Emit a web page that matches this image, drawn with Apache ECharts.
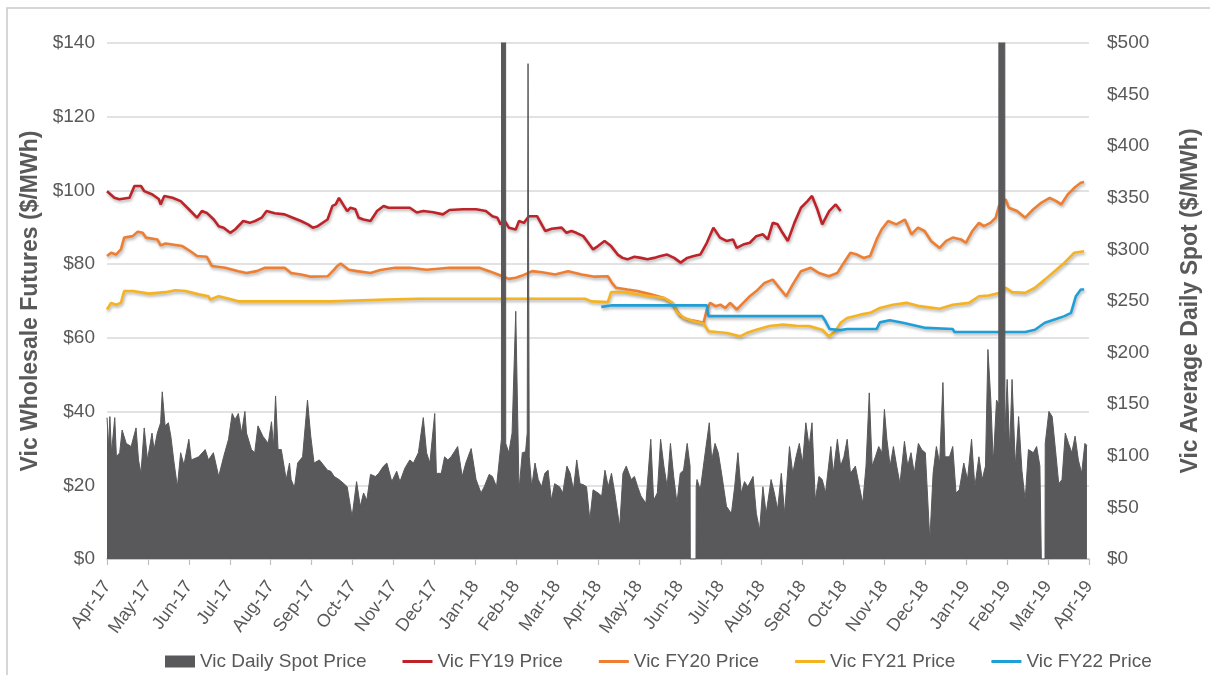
<!DOCTYPE html>
<html>
<head>
<meta charset="utf-8">
<script src="https://cdn.jsdelivr.net/npm/echarts@6/dist/echarts.min.js"></script>
<style>
html,body{margin:0;padding:0;background:#fff;}
#chart{width:1210px;height:675px;}
</style>
</head>
<body>
<div id="chart"></div>
<script>
// Month tick labels (x = months since Apr-17)
const tickLabels = ['Apr-17','May-17','Jun-17','Jul-17','Aug-17','Sep-17','Oct-17','Nov-17','Dec-17','Jan-18','Feb-18','Mar-18','Apr-18','May-18','Jun-18','Jul-18','Aug-18','Sep-18','Oct-18','Nov-18','Dec-18','Jan-19','Feb-19','Mar-19','Apr-19'];

// Vic Daily Spot Price ($/MWh, right axis) as [month offset, value]
const spotPrice = [
[0,137],[0.04,109],[0.07,138],[0.11,103],[0.19,137],[0.23,99],[0.31,103],[0.37,125],[0.47,112],[0.59,109],
[0.71,127],[0.77,96],[0.83,83],[0.91,127],[0.99,96],[1.10,122],[1.15,106],[1.23,122],[1.31,132],[1.35,162],
[1.42,129],[1.50,132],[1.56,119],[1.64,93],[1.72,70],[1.80,103],[1.88,91],[2.00,116],[2.06,96],[2.24,99],
[2.40,106],[2.48,96],[2.60,103],[2.73,80],[2.85,99],[2.97,116],[3.06,141],[3.13,135],[3.21,141],[3.29,122],
[3.37,143],[3.41,122],[3.53,106],[3.61,103],[3.69,129],[3.81,119],[3.94,112],[4.02,133],[4.07,109],[4.12,158],
[4.18,106],[4.26,106],[4.38,77],[4.46,93],[4.50,77],[4.58,69],[4.66,93],[4.78,99],[4.90,154],[4.98,119],
[5.06,93],[5.19,96],[5.31,90],[5.39,86],[5.47,85],[5.55,80],[5.67,77],[5.79,73],[5.87,70],[5.99,41],
[6.10,75],[6.19,51],[6.27,64],[6.35,57],[6.44,82],[6.56,80],[6.64,83],[6.76,90],[6.84,93],[6.96,75],
[7.08,85],[7.16,75],[7.28,88],[7.40,96],[7.49,93],[7.61,103],[7.73,137],[7.81,103],[7.89,93],[8.01,141],
[8.05,83],[8.17,83],[8.25,99],[8.33,96],[8.41,99],[8.49,104],[8.57,109],[8.68,80],[8.77,93],[8.90,107],
[9.02,77],[9.14,64],[9.22,70],[9.34,82],[9.42,80],[9.52,70],[9.58,93],[9.64,116],[9.645,900],[9.74,900],
[9.745,112],[9.82,103],[9.90,122],[9.99,240],[10.07,67],[10.15,103],[10.23,104],[10.27,122],[10.29,480],[10.32,99],
[10.38,70],[10.46,93],[10.54,77],[10.62,70],[10.70,83],[10.78,86],[10.86,57],[10.94,73],[11.06,70],[11.14,64],
[11.24,90],[11.32,83],[11.40,67],[11.48,96],[11.56,73],[11.64,72],[11.72,70],[11.80,38],[11.88,67],[12.00,64],
[12.09,61],[12.17,86],[12.25,70],[12.33,83],[12.41,64],[12.53,31],[12.61,83],[12.69,90],[12.81,77],[12.89,80],
[12.97,70],[13.05,61],[13.17,54],[13.29,116],[13.36,57],[13.45,64],[13.53,116],[13.61,90],[13.69,70],[13.77,112],
[13.85,80],[13.93,54],[14.01,83],[14.09,86],[14.18,112],[14.25,90],[14.255,0],[14.395,0],[14.40,70],[14.42,77],
[14.50,67],[14.62,103],[14.72,132],[14.78,96],[14.86,112],[14.94,103],[15.02,83],[15.14,51],[15.26,44],[15.34,70],
[15.42,103],[15.50,64],[15.58,75],[15.66,70],[15.79,80],[15.87,44],[15.95,28],[16.03,70],[16.11,44],[16.23,77],
[16.31,64],[16.39,48],[16.48,83],[16.56,44],[16.68,109],[16.76,83],[16.84,99],[16.92,112],[17.00,93],[17.08,132],
[17.16,109],[17.23,132],[17.31,57],[17.40,80],[17.48,77],[17.56,64],[17.69,109],[17.75,83],[17.85,116],[17.93,90],
[18.01,99],[18.09,116],[18.17,83],[18.29,90],[18.39,70],[18.47,54],[18.55,90],[18.63,161],[18.70,90],[18.78,99],
[18.86,109],[18.94,103],[19.00,145],[19.06,116],[19.14,90],[19.22,109],[19.30,90],[19.38,73],[19.49,114],[19.57,90],
[19.65,103],[19.73,83],[19.83,112],[19.91,106],[20.00,103],[20.11,18],[20.19,83],[20.27,109],[20.35,93],[20.43,171],
[20.48,99],[20.59,99],[20.67,109],[20.75,64],[20.83,67],[20.94,93],[21.03,77],[21.13,116],[21.21,70],[21.31,99],
[21.39,77],[21.47,90],[21.53,203],[21.60,154],[21.66,93],[21.74,154],[21.795,150],[21.80,900],[21.94,900],[21.945,120],
[22.00,174],[22.06,106],[22.12,174],[22.20,90],[22.28,138],[22.36,86],[22.44,57],[22.52,106],[22.64,103],[22.72,109],
[22.80,90],[22.835,0],[22.925,0],[22.93,112],[23.02,143],[23.10,138],[23.18,106],[23.26,73],[23.34,77],[23.42,122],
[23.50,112],[23.58,103],[23.66,119],[23.74,96],[23.82,83],[23.90,112],[23.95,110]
];

// Vic FY19 futures price ($/MWh, left axis)
const fy19Price = [
[0,99.8],[0.18,98.0],[0.30,97.6],[0.55,98.0],[0.67,101.2],[0.83,101.2],[0.91,99.8],[1.11,98.9],[1.27,97.6],[1.31,96.2],
[1.40,98.5],[1.60,98.0],[1.80,97.1],[2.00,94.9],[2.20,92.6],[2.32,94.4],[2.44,93.9],[2.61,92.1],[2.73,90.3],[2.85,89.9],
[3.01,88.5],[3.13,89.4],[3.33,91.7],[3.49,91.2],[3.62,91.7],[3.78,92.6],[3.90,94.4],[4.10,93.8],[4.34,93.5],[4.54,92.6],
[4.74,91.7],[4.91,90.8],[5.03,89.9],[5.15,90.3],[5.39,92.1],[5.51,95.8],[5.59,96.2],[5.67,98.0],[5.79,95.8],[5.87,94.4],
[5.95,95.3],[6.07,94.9],[6.15,92.6],[6.27,92.1],[6.44,91.7],[6.60,94.4],[6.76,95.8],[6.88,95.3],[7.04,95.3],[7.40,95.3],
[7.57,94.0],[7.73,94.4],[7.97,94.1],[8.21,93.5],[8.37,94.7],[8.70,94.9],[9.02,94.9],[9.26,94.4],[9.42,93.0],[9.54,92.6],
[9.62,90.8],[9.70,92.1],[9.82,89.9],[9.99,89.4],[10.07,91.7],[10.19,91.2],[10.31,93.0],[10.51,93.0],[10.71,89.0],[10.87,89.6],
[11.11,89.9],[11.23,88.5],[11.35,89.0],[11.47,88.5],[11.64,87.6],[11.76,85.8],[11.88,84.0],[12.00,84.9],[12.16,86.3],[12.32,84.9],
[12.48,82.6],[12.60,81.7],[12.72,81.3],[12.89,82.0],[13.05,81.7],[13.21,81.3],[13.37,81.7],[13.53,82.2],[13.69,82.6],[13.86,81.7],
[14.02,80.4],[14.18,81.7],[14.34,82.2],[14.50,82.6],[14.66,85.8],[14.82,89.9],[14.98,87.2],[15.14,86.3],[15.30,86.7],[15.39,84.4],
[15.55,85.3],[15.71,85.8],[15.87,87.6],[16.03,88.1],[16.15,86.7],[16.27,91.2],[16.39,90.8],[16.51,88.5],[16.64,86.3],[16.80,91.2],
[16.96,95.3],[17.12,97.1],[17.23,98.5],[17.36,94.9],[17.48,90.8],[17.65,94.4],[17.81,96.2],[17.93,94.4]
];

// Vic FY20 futures price
const fy20Price = [
[0,82.2],[0.10,83.1],[0.22,82.6],[0.34,84.0],[0.42,87.2],[0.63,87.6],[0.75,88.8],[0.87,88.5],[0.95,87.2],[1.23,86.7],
[1.31,85.1],[1.43,85.6],[1.84,84.9],[2.04,83.5],[2.20,82.2],[2.44,82.0],[2.56,79.5],[2.89,79.0],[3.21,78.1],[3.41,77.6],
[3.66,78.1],[3.86,79.0],[4.34,79.0],[4.50,77.6],[4.74,77.2],[4.99,76.6],[5.39,76.7],[5.55,78.5],[5.63,79.5],[5.71,80.2],
[5.79,79.5],[5.91,78.5],[6.11,78.1],[6.44,77.6],[6.68,78.4],[7.04,79.0],[7.40,79.0],[7.81,78.5],[8.37,79.0],[9.10,79.0],
[9.34,78.1],[9.62,76.9],[9.82,76.0],[9.99,76.3],[10.15,76.9],[10.39,78.1],[10.63,77.8],[10.95,77.2],[11.27,78.1],[11.60,77.2],
[11.92,76.6],[12.24,76.7],[12.34,74.9],[12.44,73.6],[12.72,73.1],[12.96,72.7],[13.29,71.8],[13.61,70.8],[13.81,69.5],[13.90,67.7],
[14.02,65.9],[14.18,65.0],[14.42,64.5],[14.58,64.1],[14.66,67.7],[14.74,69.5],[14.87,68.6],[14.99,69.0],[15.11,68.1],[15.23,69.5],
[15.39,67.7],[15.55,69.5],[15.71,71.3],[15.87,72.7],[16.07,74.9],[16.27,75.8],[16.43,73.6],[16.60,71.3],[16.76,74.5],[16.96,78.1],
[17.20,79.0],[17.40,77.6],[17.64,76.7],[17.85,77.6],[18.01,80.4],[18.17,83.1],[18.33,82.6],[18.49,81.7],[18.65,82.2],[18.81,86.7],
[18.93,89.4],[19.09,91.7],[19.29,90.8],[19.50,92.1],[19.66,88.1],[19.82,89.9],[19.98,89.0],[20.14,86.3],[20.35,84.4],[20.51,86.3],
[20.67,87.2],[20.87,86.7],[20.99,85.8],[21.15,89.0],[21.31,91.2],[21.43,90.3],[21.59,91.2],[21.72,92.6],[21.80,95.8],[21.96,97.6],
[22.04,95.3],[22.24,94.4],[22.44,92.6],[22.64,94.9],[22.84,96.7],[23.04,98.0],[23.20,97.1],[23.32,96.2],[23.48,98.9],[23.64,100.7],
[23.80,102.1],[23.88,102.3]
];

// Vic FY21 futures price
const fy21Price = [
[0,67.7],[0.10,69.5],[0.22,69.0],[0.34,69.5],[0.42,72.7],[0.63,72.7],[1.03,72.0],[1.43,72.4],[1.67,72.9],[1.92,72.7],
[2.24,71.8],[2.48,71.3],[2.52,70.4],[2.73,71.3],[3.05,70.4],[3.21,69.9],[5.47,69.9],[6.84,70.4],[7.65,70.6],[11.68,70.6],
[11.84,69.9],[12.24,69.7],[12.32,72.4],[12.65,72.4],[12.97,71.8],[13.29,71.3],[13.62,70.8],[13.82,69.5],[13.94,66.8],[14.10,65.4],
[14.34,64.5],[14.58,63.9],[14.70,61.8],[14.90,61.6],[15.15,61.3],[15.47,60.4],[15.63,61.3],[15.87,62.2],[16.19,63.2],[16.52,63.6],
[16.84,63.3],[17.16,63.2],[17.48,62.2],[17.64,60.4],[17.80,61.8],[17.93,64.1],[18.09,65.4],[18.41,66.3],[18.65,66.8],[18.89,68.1],
[19.21,69.0],[19.54,69.5],[19.86,68.6],[20.35,67.9],[20.67,69.0],[21.07,69.5],[21.31,71.3],[21.55,71.5],[21.80,72.2],[21.96,73.6],
[22.12,72.4],[22.44,72.2],[22.68,73.6],[22.92,75.8],[23.16,78.1],[23.40,80.4],[23.64,83.1],[23.88,83.5]
];

// Vic FY22 futures price
const fy22Price = [
[12.08,68.4],[12.32,68.8],[14.66,68.8],[14.70,65.9],[17.48,65.9],[17.56,64.5],[17.66,62.4],[17.93,62.1],[18.09,62.4],[18.81,62.4],
[18.89,64.2],[19.13,64.8],[19.45,64.1],[20.01,62.7],[20.67,62.4],[20.71,61.6],[22.44,61.6],[22.68,62.2],[22.92,64.1],[23.16,65.0],
[23.40,65.9],[23.56,66.8],[23.68,71.3],[23.80,73.1],[23.88,73.1]
];

const seriesNames = ['Vic Daily Spot Price','Vic FY19 Price','Vic FY20 Price','Vic FY21 Price','Vic FY22 Price'];
const seriesColors = ['#59595b','#bd2328','#ee7e31','#f6b321','#1f9fd8'];

const chart = echarts.init(document.getElementById('chart'), null, {renderer:'canvas'});
const labelColor = '#595959';
const sans = '"Liberation Sans", Arial, sans-serif';
const lineIcon = 'path://M0,0H30V3H0Z';

function futuresLine(name, data, color){
  return {
    name: name, type: 'line', data: data, yAxisIndex: 0,
    showSymbol: false, symbol: 'none',
    lineStyle: {color: color, width: 2.6, shadowColor: 'rgba(0,0,0,0.3)', shadowBlur: 3, shadowOffsetX: 1, shadowOffsetY: 2},
    itemStyle: {color: color}, z: 2
  };
}

chart.setOption({
  animation: false,
  backgroundColor: '#ffffff',
  graphic: [{
    type: 'rect', shape: {x: 7, y: 8, width: 1260, height: 700},
    style: {fill: 'none', stroke: '#c9c9c9', lineWidth: 1.5}, silent: true, z: -1
  }],
  grid: {left: 107, right: 111, top: 43, bottom: 116},
  legend: {
    left: 160, top: 647,
    itemWidth: 30, itemHeight: 12, itemGap: 36,
    textStyle: {fontFamily: sans, fontSize: 19, color: labelColor},
    data: [
      {name: seriesNames[0], icon: 'rect'},
      {name: seriesNames[1], icon: lineIcon},
      {name: seriesNames[2], icon: lineIcon},
      {name: seriesNames[3], icon: lineIcon},
      {name: seriesNames[4], icon: lineIcon}
    ]
  },
  xAxis: {
    type: 'value', min: 0, max: 24, interval: 1,
    axisLine: {show: true, onZero: false, lineStyle: {color: '#bfbfbf', width: 1.5}},
    axisTick: {show: true, length: 6, lineStyle: {color: '#bfbfbf', width: 1.2}},
    splitLine: {show: false},
    axisLabel: {
      rotate: 54, margin: 24, color: labelColor, fontFamily: sans, fontSize: 18,
      formatter: function(v){ return tickLabels[Math.round(v)] || ''; }
    }
  },
  yAxis: [{
    type: 'value', min: 0, max: 140, interval: 20, position: 'left',
    name: 'Vic Wholesale Futures ($/MWh)', nameLocation: 'middle', nameRotate: 90, nameGap: 51,
    nameTextStyle: {color: labelColor, fontFamily: sans, fontSize: 23, fontWeight: 'bold'},
    axisLine: {show: false}, axisTick: {show: false},
    axisLabel: {color: labelColor, fontFamily: sans, fontSize: 19, margin: 12,
      formatter: function(v){ return '$' + v; }},
    splitLine: {show: true, lineStyle: {color: '#d9d9d9', width: 1.5}}
  },{
    type: 'value', min: 0, max: 500, interval: 50, position: 'right',
    name: 'Vic Average Daily Spot ($/MWh)', nameLocation: 'middle', nameRotate: 90, nameGap: 90,
    nameTextStyle: {color: labelColor, fontFamily: sans, fontSize: 23, fontWeight: 'bold'},
    axisLine: {show: false}, axisTick: {show: false},
    axisLabel: {color: labelColor, fontFamily: sans, fontSize: 19, margin: 18,
      formatter: function(v){ return '$' + v; }},
    splitLine: {show: false}
  }],
  series: [
    futuresLine(seriesNames[1], fy19Price, seriesColors[1]),
    futuresLine(seriesNames[2], fy20Price, seriesColors[2]),
    futuresLine(seriesNames[3], fy21Price, seriesColors[3]),
    futuresLine(seriesNames[4], fy22Price, seriesColors[4]),
    {
      name: seriesNames[0], type: 'line', data: spotPrice, yAxisIndex: 1,
      showSymbol: false, symbol: 'none', clip: true,
      lineStyle: {color: seriesColors[0], width: 1},
      areaStyle: {color: seriesColors[0], opacity: 1},
      itemStyle: {color: seriesColors[0]}, z: 3
    }
  ]
});
</script>
</body>
</html>
